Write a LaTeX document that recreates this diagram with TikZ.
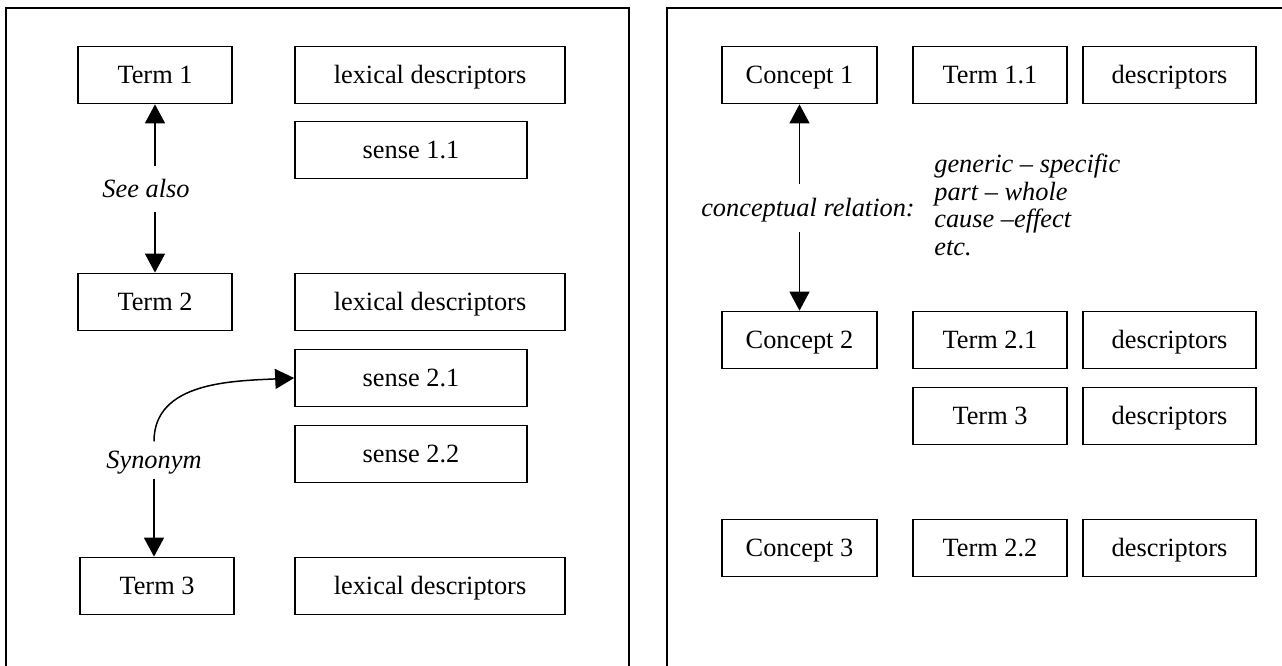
\documentclass[tikz,border=0pt]{standalone}
\usepackage{fontspec}
\setmainfont{Liberation Serif}
\usetikzlibrary{arrows.meta}

\begin{document}
\begin{tikzpicture}[x=0.02cm, y=-0.02cm,
    font=\fontsize{15}{16}\selectfont,
    box/.style={draw, line width=0.035cm, inner sep=0pt, minimum height=1.14cm, text height=11pt, text depth=1pt},
    rel/.style={font=\fontsize{15}{16}\selectfont\itshape, inner xsep=0pt, inner ysep=0.21cm, text height=12pt, text depth=2pt},
    arr/.style={line width=0.03cm, -{Triangle[length=0.38cm, width=0.4cm]}}]
    \useasboundingbox (0,0) rectangle (1282,666);
    % the two frames
    \draw[line width=0.04cm] (6,666) -- (6,8) -- (629,8) -- (629,666);
    \draw[line width=0.04cm] (667,666) -- (667,8) -- (1282,8);

    % left: terms and senses
    \node[box, minimum width=3.08cm] (t1) at (155,75) {Term 1};
    \node[box, minimum width=5.4cm] (ld1) at (430,75) {lexical descriptors};
    \node[box, minimum width=4.64cm] (s11) at (411,150) {sense 1.1};
    \node[box, minimum width=3.08cm] (t2) at (155,302) {Term 2};
    \node[box, minimum width=5.4cm] (ld2) at (430,302) {lexical descriptors};
    \node[box, minimum width=4.64cm] (s21) at (411,378) {sense 2.1};
    \node[box, minimum width=4.64cm] (s22) at (411,454) {sense 2.2};
    \node[box, minimum width=3.08cm] (t3) at (157,586) {Term 3};
    \node[box, minimum width=5.4cm] (ld3) at (430,586) {lexical descriptors};

    \node[rel] (seealso) at (146,189) {See also};
    \node[rel, inner ysep=0.12cm] (syn) at (154,460) {Synonym};
    \draw[arr] (seealso.north -| t1.south) -- (t1.south);
    \draw[arr] (seealso.south -| t2.north) -- (t2.north);
    \draw[arr] (syn.north) .. controls (154,382) and (232,381) .. (s21.west);
    \draw[arr] (syn.south) -- (syn.south |- t3.north);

    % right: concepts and terms
    \node[box, minimum width=3.1cm] (c1) at (799.5,75) {Concept 1};
    \node[box, minimum width=3.08cm] (t11) at (990,75) {Term 1.1};
    \node[box, minimum width=3.46cm] (d11) at (1169.5,75) {descriptors};
    \node[box, minimum width=3.1cm] (c2) at (799.5,340) {Concept 2};
    \node[box, minimum width=3.08cm] (t21) at (990,340) {Term 2.1};
    \node[box, minimum width=3.46cm] (d21) at (1169.5,340) {descriptors};
    \node[box, minimum width=3.08cm] (t3r) at (990,416) {Term 3};
    \node[box, minimum width=3.46cm] (d3r) at (1169.5,416) {descriptors};
    \node[box, minimum width=3.1cm] (c3) at (799.5,548) {Concept 3};
    \node[box, minimum width=3.08cm] (t22) at (990,548) {Term 2.2};
    \node[box, minimum width=3.46cm] (d22) at (1169.5,548) {descriptors};

    \node[rel, inner ysep=0.23cm] (concrel) at (808,208) {conceptual relation:};
    \draw[arr] (concrel.north -| c1.south) -- (c1.south);
    \draw[arr] (concrel.south -| c2.north) -- (c2.north);
    \node[anchor=west, align=left, inner sep=0pt, font=\fontsize{15}{15.8}\selectfont\itshape] (rlist) at (934,205)
        {generic – specific\\part – whole\\cause –effect\\etc.};
\end{tikzpicture}
\end{document}
